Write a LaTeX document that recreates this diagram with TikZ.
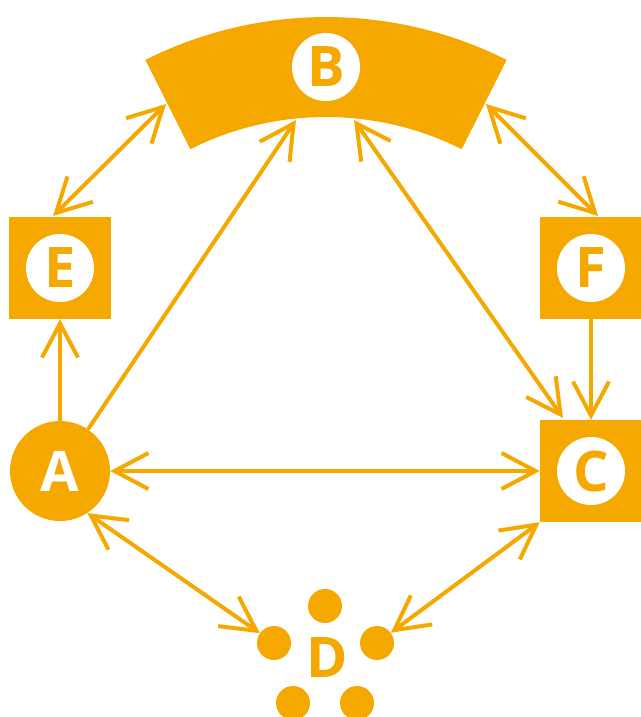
\documentclass[tikz,border=0pt]{standalone}
\usepackage{fontspec}
\setmainfont{Open Sans}
\usetikzlibrary{arrows.meta}
\definecolor{org}{HTML}{F5A800}
\tikzset{barb/.tip={Straight Barb[length=34pt,width=36pt]}}
\begin{document}
\begin{tikzpicture}[x=1pt,y=1pt,
  lbl/.style={font=\fontsize{56}{56}\selectfont\bfseries},
  sq/.style={fill=org, minimum size=102pt, inner sep=0pt, draw=none},
  wc/.style={circle, fill=white, minimum size=68pt, inner sep=0pt, text=org, lbl},
  dot/.style={circle, fill=org, minimum size=34pt, inner sep=0pt},
  conn/.style={draw=org, line width=4pt}]
\useasboundingbox (0,0) rectangle (640,-717);
% B band
\fill[org] (145.4,-59.9) arc[start angle=116.7,end angle=63.3,radius=402]
  -- (461.7,-149.2) arc[start angle=63.3,end angle=116.7,radius=302] -- cycle;
\node[wc] (B) at (326,-67) {B};
% squares
\node[sq] (Esq) at (60,-268) {};
\node[wc] (E) at (60,-268) {E};
\node[sq] (Fsq) at (591,-268) {};
\node[wc] (F) at (591,-268) {F};
\node[sq] (Csq) at (591,-471) {};
\node[wc] (C) at (591,-471) {C};
% A
\node[circle, fill=org, minimum size=100pt, inner sep=0pt, text=white, lbl] (A) at (60,-471) {A};
% D
\node[dot] (Dt) at (325,-606) {};
\node[dot] (Dl) at (274,-643) {};
\node[dot] (Dr) at (377,-643) {};
\node[dot] (Dbl) at (293,-703) {};
\node[dot] (Dbr) at (357,-703) {};
\node[text=org, lbl] (D) at (327,-658) {D};
% endpoints on B and boxes
\coordinate (Bl) at (166,-104);
\coordinate (Bi1) at (296,-120);
\coordinate (Bi2) at (354,-120);
\coordinate (Br) at (486,-104);
\coordinate (Etop) at (53,-216);
\coordinate (Ftop) at (598,-216);
\coordinate (Ctop) at (563,-418);
% connectors
\draw[conn, barb-barb] (Etop) -- (Bl);
\draw[conn, barb-barb] (Ftop) -- (Br);
\draw[conn, -barb] (A) -- (Bi1);
\draw[conn, barb-barb] (Bi2) -- (Ctop);
\draw[conn, -barb] (A.north) -- (Esq.south);
\draw[conn, -barb] (Fsq.south) -- (Csq.north);
\draw[conn, barb-barb] (A.east) -- (Csq.west);
\draw[conn, barb-barb] (A.-57.5) -- (Dl);
\draw[conn, barb-barb] (Csq.south west) -- (Dr);
\end{tikzpicture}
\end{document}
